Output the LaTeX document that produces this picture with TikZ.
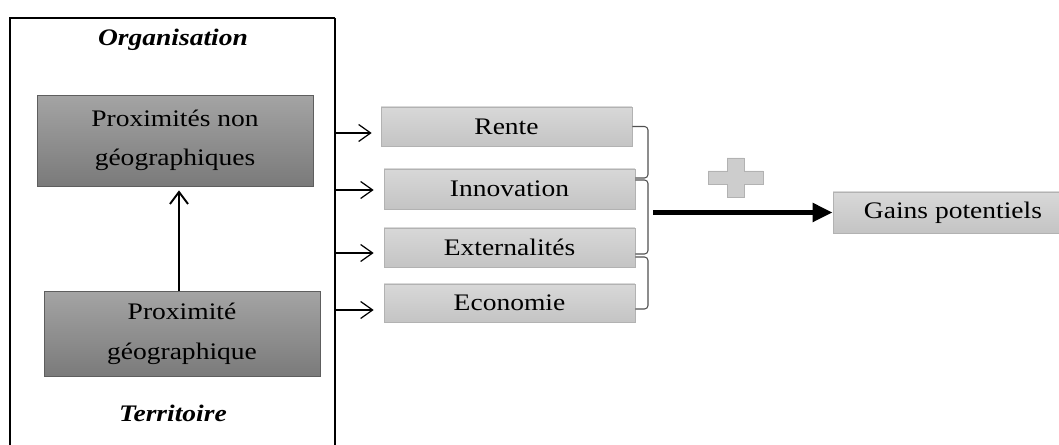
\documentclass[tikz,border=0pt]{standalone}
\usepackage{fontspec}
\setmainfont{Liberation Serif}[FakeStretch=1.16]
\usetikzlibrary{arrows.meta}

\definecolor{darktop}{HTML}{A4A4A4}
\definecolor{darkbot}{HTML}{7A7A7A}
\definecolor{darkline}{HTML}{5E5E5E}
\definecolor{lighttop}{HTML}{D8D8D8}
\definecolor{lightbot}{HTML}{C4C4C4}
\definecolor{lightline}{HTML}{B2B2B2}
\definecolor{braceline}{HTML}{505050}

\tikzset{
  txt/.style={font=\fontsize{13.5}{22.5}\selectfont},
  darkbox/.style={txt, draw=darkline, top color=darktop, bottom color=darkbot,
    align=center, inner sep=0pt, minimum width=5.52cm},
  lightbox/.style={txt, draw=lightline, top color=lighttop, bottom color=lightbot,
    inner sep=0pt, minimum width=5.02cm, minimum height=0.78cm},
  smallarr/.style={line width=0.7pt, -{Straight Barb[length=0.24cm,width=0.34cm]}},
  bracket/.style={braceline, line width=0.6pt, rounded corners=2pt},
}

\begin{document}
\begin{tikzpicture}[x=0.02cm, y=-0.02cm]
\useasboundingbox (0,0) rectangle (1059,445);
\clip (0,0) rectangle (1059,445);

% left frame
\draw [line width=0.8pt] (10,460) -- (10,18) -- (335,18);
\draw [line width=1.3pt] (335,18) -- (335,460);
\node[txt, font=\fontsize{13.5}{15}\selectfont\bfseries\itshape] (orga) at (173,40) {Organisation};
\node[txt, font=\fontsize{13.5}{15}\selectfont\bfseries\itshape] (terr) at (173,413) {Territoire};

\node[darkbox, minimum height=1.82cm] (proxnon) at (175,140.5) {Proximités non\\géographiques};
\node[darkbox, minimum height=1.70cm] (proxgeo) at (182,334) {Proximité\\géographique};
\draw [line width=1.1pt, -{Straight Barb[length=0.24cm,width=0.36cm]}, shorten >=4*0.02cm]
  (proxgeo.north -| 179,0) -- (proxnon.south -| 179,0);

% effets
\node[lightbox] (rente) at (506.5,126.5) {Rente};
\node[lightbox, minimum height=0.80cm] (innov) at (509.5,189) {Innovation};
\node[lightbox] (extern) at (509.5,247.5) {Externalités};
\node[lightbox, minimum height=0.76cm] (econ) at (509.5,303) {Economie};

\coordinate (a1) at (336,133);
\coordinate (a2) at (336,190);
\coordinate (a3) at (336,253);
\coordinate (a4) at (336,310);
\draw [smallarr, shorten >=0.18cm] (a1) -- (a1 -| rente.west);
\draw [smallarr, shorten >=0.2cm] (a2) -- (a2 -| innov.west);
\draw [smallarr, shorten >=0.2cm] (a3) -- (a3 -| extern.west);
\draw [smallarr, shorten >=0.2cm] (a4) -- (a4 -| econ.west);

\draw [bracket] (rente.east) -- (648,126.5) -- (648,178) -- (innov.east |- 0,178);
\draw [bracket] (innov.east |- 0,180) -- (648,180) -- (648,254) -- (extern.east |- 0,254);
\draw [bracket] (extern.east |- 0,257) -- (648,257) -- (648,309) -- (econ.east |- 0,309);

% plus
\fill [lightbot!85!white, draw=lightline, line width=0.3pt]
  (727,158) -- (744,158) -- (744,171) -- (763,171) -- (763,184) -- (744,184)
  -- (744,197) -- (727,197) -- (727,184) -- (708,184) -- (708,171) -- (727,171) -- cycle;

\node[lightbox, minimum width=4.8cm, minimum height=0.82cm] (gains) at (953,212.5) {Gains potentiels};
\coordinate (b0) at (653,212.5);
\draw [line width=2.8pt, -{Triangle[length=0.4cm,width=0.36cm]}] (b0) -- (gains.west);
\end{tikzpicture}
\end{document}
